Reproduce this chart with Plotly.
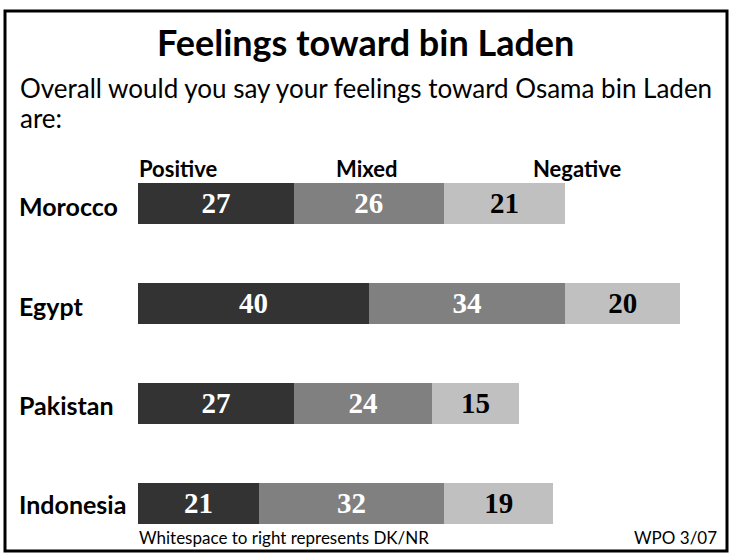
import plotly.graph_objects as go

countries = ["Morocco", "Egypt", "Pakistan", "Indonesia"]
positive = [27, 40, 27, 21]
mixed = [26, 34, 24, 32]
negative = [21, 20, 15, 19]
series_names = ["Positive", "Mixed", "Negative"]
series_colors = ["#333333", "#808080", "#c0c0c0"]
label_colors = ["white", "white", "black"]

W, H = 731, 554
fig = go.Figure()
for name, vals, col, lc in zip(series_names, [positive, mixed, negative], series_colors, label_colors):
    fig.add_trace(go.Bar(
        y=countries, x=vals, orientation="h", name=name,
        marker=dict(color=col, line=dict(width=0)),
        text=[str(v) for v in vals], textposition="inside",
        insidetextanchor="middle", textangle=0,
        textfont=dict(family="Liberation Serif", size=29, color=lc, weight="bold"),
        width=0.41, hoverinfo="skip",
    ))

x0, x1 = 138, 138 + 577
ytop, ybot = 153, 553
fig.update_layout(
    width=W, height=H, barmode="stack", showlegend=False,
    margin=dict(l=0, r=0, t=0, b=0),
    paper_bgcolor="white", plot_bgcolor="white",
    xaxis=dict(domain=[x0 / W, x1 / W], range=[0, 100], visible=False, fixedrange=True),
    yaxis=dict(domain=[1 - ybot / H, 1 - ytop / H], range=[3.5, -0.5],
               categoryorder="array", categoryarray=countries,
               visible=False, fixedrange=True),
    uniformtext=dict(mode="show", minsize=10),
)

def ann(text, x, y, size, family="Lato", bold=False, xanchor="left", color="black"):
    fig.add_annotation(text=f"<b>{text}</b>" if bold else text, x=x / W, y=1 - y / H,
                       xref="paper", yref="paper", xanchor=xanchor, yanchor="middle",
                       showarrow=False, font=dict(family=family, size=size, color=color))

ann("Feelings toward bin Laden", 365, 42, 36, bold=True, xanchor="center")
ann("Overall would you say your feelings toward Osama bin Laden", 18, 88, 26)
ann("are:", 18, 118, 26)

header_x = [178, 367, 577]
for name, hx in zip(series_names, header_x):
    ann(name, hx, 168, 22, bold=True, xanchor="center")

row_y = [206, 306, 405, 504]
for c, ry in zip(countries, row_y):
    ann(c, 17, ry, 25, bold=True)

ann("Whitespace to right represents DK/NR", 137, 537, 17)
ann("WPO 3/07", 719, 537, 17, xanchor="right")

fig.add_shape(type="rect", xref="paper", yref="paper",
              x0=5 / W, x1=727 / W, y0=1 - 551 / H, y1=1 - 11 / H,
              line=dict(color="black", width=3))

fig.write_html("out.html", config={"displayModeBar": False, "staticPlot": True},
               post_script="document.body.style.margin='0';document.body.style.overflow='hidden';")
